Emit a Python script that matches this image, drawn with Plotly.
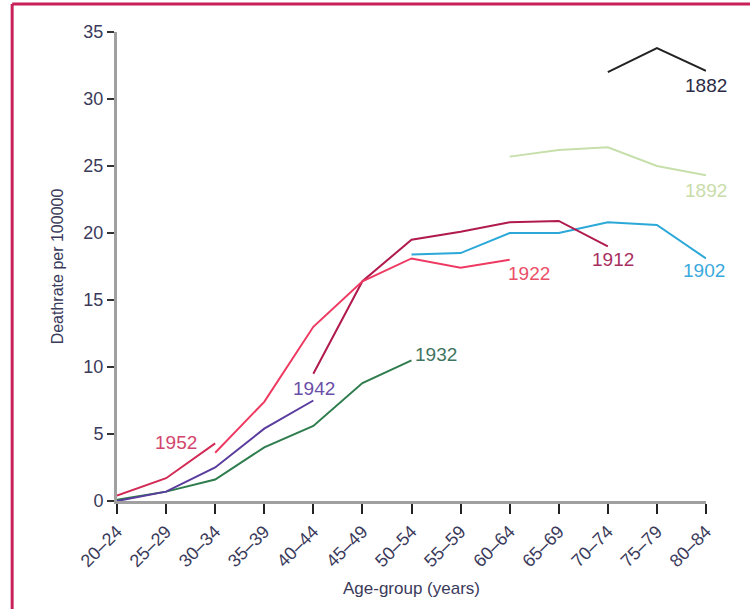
import plotly.graph_objects as go

age_groups = ["20–24", "25–29", "30–34", "35–39", "40–44", "45–49", "50–54",
              "55–59", "60–64", "65–69", "70–74", "75–79", "80–84"]
y_ticks = [0, 5, 10, 15, 20, 25, 30, 35]

cohorts = ["1882", "1892", "1902", "1912", "1922", "1932", "1942", "1952"]
start_idx = {"1882": 10, "1892": 8, "1902": 6, "1912": 4, "1922": 2,
             "1932": 0, "1942": 0, "1952": 0}
rates = {
    "1882": [32.0, 33.8, 32.1],
    "1892": [25.7, 26.2, 26.4, 25.0, 24.3],
    "1902": [18.4, 18.5, 20.0, 20.0, 20.8, 20.6, 18.1],
    "1912": [9.5, 16.4, 19.5, 20.1, 20.8, 20.9, 19.0],
    "1922": [3.6, 7.4, 13.0, 16.4, 18.1, 17.4, 18.0],
    "1932": [0.1, 0.7, 1.6, 4.0, 5.6, 8.8, 10.5],
    "1942": [0.0, 0.7, 2.5, 5.4, 7.5],
    "1952": [0.4, 1.7, 4.3],
}
line_colors = {"1882": "#222222", "1892": "#c6dfab", "1902": "#2ba8d8",
               "1912": "#b01a4e", "1922": "#ee3a62", "1932": "#2f7d4e",
               "1942": "#5a3c9e", "1952": "#d22a55"}
label_colors = {"1882": "#2b2b45", "1892": "#c9dcaa", "1902": "#3aa9dc",
                "1912": "#a8305f", "1922": "#ea5068", "1932": "#3f7560",
                "1942": "#6a4fa8", "1952": "#d2456c"}
# label positions: (category index, value)
label_pos = {"1882": (12.0, 31.0), "1892": (12.0, 23.2), "1902": (11.95, 17.2),
             "1912": (10.1, 18.0), "1922": (8.4, 17.0), "1932": (6.5, 10.9),
             "1942": (4.02, 8.4), "1952": (1.2, 4.4)}

FONT = "Liberation Sans Narrow, Liberation Sans, Arial, sans-serif"

fig = go.Figure()
for c in cohorts:
    s = start_idx[c]
    xs = age_groups[s:s + len(rates[c])]
    fig.add_trace(go.Scatter(x=xs, y=rates[c], mode="lines",
                             line=dict(color=line_colors[c], width=2),
                             showlegend=False, hoverinfo="skip"))

for c in cohorts:
    xi, yv = label_pos[c]
    fig.add_annotation(x=xi, y=yv, xref="x", yref="y", text=c, showarrow=False,
                       font=dict(family=FONT, size=19, color=label_colors[c]))

# frame (top and left edges)
border = "#c8215a"
fig.add_shape(type="line", xref="paper", yref="paper", x0=-0.178, x1=-0.178,
              y0=-0.3, y1=1.0597, line=dict(color=border, width=3))
fig.add_shape(type="line", xref="paper", yref="paper", x0=-0.178, x1=1.2,
              y0=1.0597, y1=1.0597, line=dict(color=border, width=3))

fig.update_layout(
    width=750, height=609,
    margin=dict(l=117, r=44, t=32, b=108),
    paper_bgcolor="white", plot_bgcolor="white",
    font=dict(family=FONT, color="#444444"),
    xaxis=dict(type="category", categoryorder="array", categoryarray=age_groups,
               range=[0, 12], showgrid=False, zeroline=False,
               showline=True, linecolor="#a0a0a0", linewidth=3,
               ticks="outside", ticklen=10, tickwidth=2, tickcolor="#222222",
               tickangle=-45, tickfont=dict(size=18, color="#3a3a5a"),
               title=dict(text="Age-group (years)", font=dict(size=17, color="#3a3a5a"),
                          standoff=12)),
    yaxis=dict(range=[0, 35], tickvals=y_ticks, showgrid=False, zeroline=False,
               showline=True, linecolor="#a0a0a0", linewidth=3,
               ticks="outside", ticklen=7, tickwidth=2, tickcolor="#333333",
               tickfont=dict(size=18, color="#3a3a5a"),
               title=dict(text="Deathrate per 100000", font=dict(size=16, color="#3a3a5a"),
                          standoff=16)),
)

fig.write_html("out.html", config={"displayModeBar": False},
               post_script="document.body.style.margin='0';document.body.style.overflow='hidden';")
